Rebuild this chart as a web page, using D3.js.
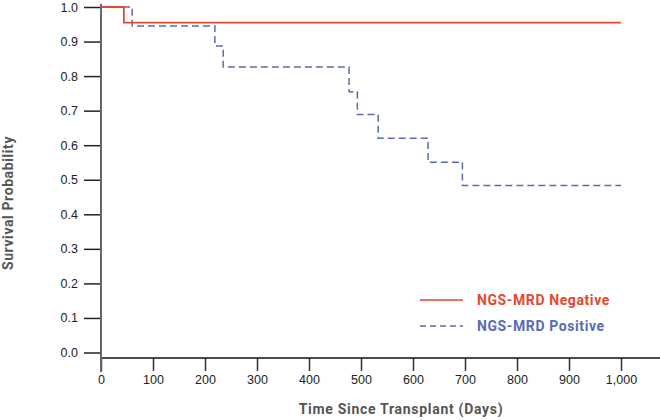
<!DOCTYPE html>
<html><head><meta charset="utf-8">
<script src="https://cdn.jsdelivr.net/npm/d3@7/dist/d3.min.js"></script>
<style>body{margin:0;background:#fff;} svg{display:block;font-family:Roboto,"Open Sans",sans-serif;}</style>
</head><body>
<svg id="c" width="660" height="420"></svg>
<script>
// Data
const negTimes = [0, 44, 1000];
const negSurv  = [1.0, 0.955, 0.955];
const posTimes = [0, 60, 219, 235, 477, 493, 533, 629, 695, 1000];
const posSurv  = [1.0, 0.945, 0.887, 0.826, 0.755, 0.689, 0.620, 0.551, 0.483, 0.483];
const xTicks = [0,100,200,300,400,500,600,700,800,900,1000];
const yTicks = [0,0.1,0.2,0.3,0.4,0.5,0.6,0.7,0.8,0.9,1.0];
const seriesNames = ["NGS-MRD Negative","NGS-MRD Positive"];
const seriesColors = ["#e2492d","#5b6ab4"];

const svg = d3.select("#c");
const x = d3.scaleLinear().domain([0,1000]).range([101,621]);
const y = d3.scaleLinear().domain([0,1]).range([352.5,7]);

// X axis
const xa = svg.append("g").attr("transform","translate(0,358)")
  .call(d3.axisBottom(x).tickValues(xTicks).tickSize(13).tickPadding(4).tickFormat(d3.format(",")));
xa.select(".domain").remove();
xa.append("line").attr("x1",101).attr("x2",660).attr("y1",0).attr("y2",0).attr("stroke","#111").attr("stroke-width",1.5);
xa.selectAll(".tick line").attr("stroke","#333").attr("stroke-width",1.5);
xa.selectAll(".tick text").attr("fill","#222").attr("font-size",12.5);

// Y axis
const ya = svg.append("g").attr("transform","translate(101,0)")
  .call(d3.axisLeft(y).tickValues(yTicks).tickSize(17).tickPadding(6).tickFormat(d3.format(".1f")));
ya.select(".domain").remove();
ya.append("line").attr("x1",0).attr("x2",0).attr("y1",4).attr("y2",372).attr("stroke","#666").attr("stroke-width",2);
ya.selectAll(".tick line").attr("stroke","#222").attr("stroke-width",1.5);
ya.selectAll(".tick text").attr("fill","#222").attr("font-size",12.5);

// Curves
const line = d3.line().curve(d3.curveStepAfter).x(d=>x(d[0])).y(d=>y(d[1]));
svg.append("path").datum(posTimes.map((t,i)=>[t,posSurv[i]]))
  .attr("d",line).attr("fill","none").attr("stroke",seriesColors[1]).attr("stroke-width",1.5).attr("stroke-dasharray","7,4");
svg.append("path").datum(negTimes.map((t,i)=>[t,negSurv[i]]))
  .attr("d",line).attr("fill","none").attr("stroke",seriesColors[0]).attr("stroke-width",1.8);

// Legend
const lg = svg.append("g");
seriesNames.forEach((n,i)=>{
  const yy = 300 + i*26;
  lg.append("line").attr("x1",420).attr("x2",463).attr("y1",yy).attr("y2",yy)
    .attr("stroke",seriesColors[i]).attr("stroke-width",1.5)
    .attr("stroke-dasharray", i===1 ? "6,4" : null);
  lg.append("text").attr("x",477).attr("y",yy+5).attr("fill",seriesColors[i])
    .attr("font-size",14).attr("letter-spacing",0.6).attr("font-weight","bold").text(n);
});

// Axis titles
svg.append("text").attr("x",401).attr("y",414).attr("text-anchor","middle")
  .attr("font-size",14).attr("letter-spacing",0.7).attr("font-weight","bold").attr("fill","#555").text("Time Since Transplant (Days)");
svg.append("text").attr("transform","translate(13,203) rotate(-90)").attr("text-anchor","middle")
  .attr("font-size",14).attr("letter-spacing",0.6).attr("font-weight","bold").attr("fill","#555").text("Survival Probability");
</script>
</body></html>
